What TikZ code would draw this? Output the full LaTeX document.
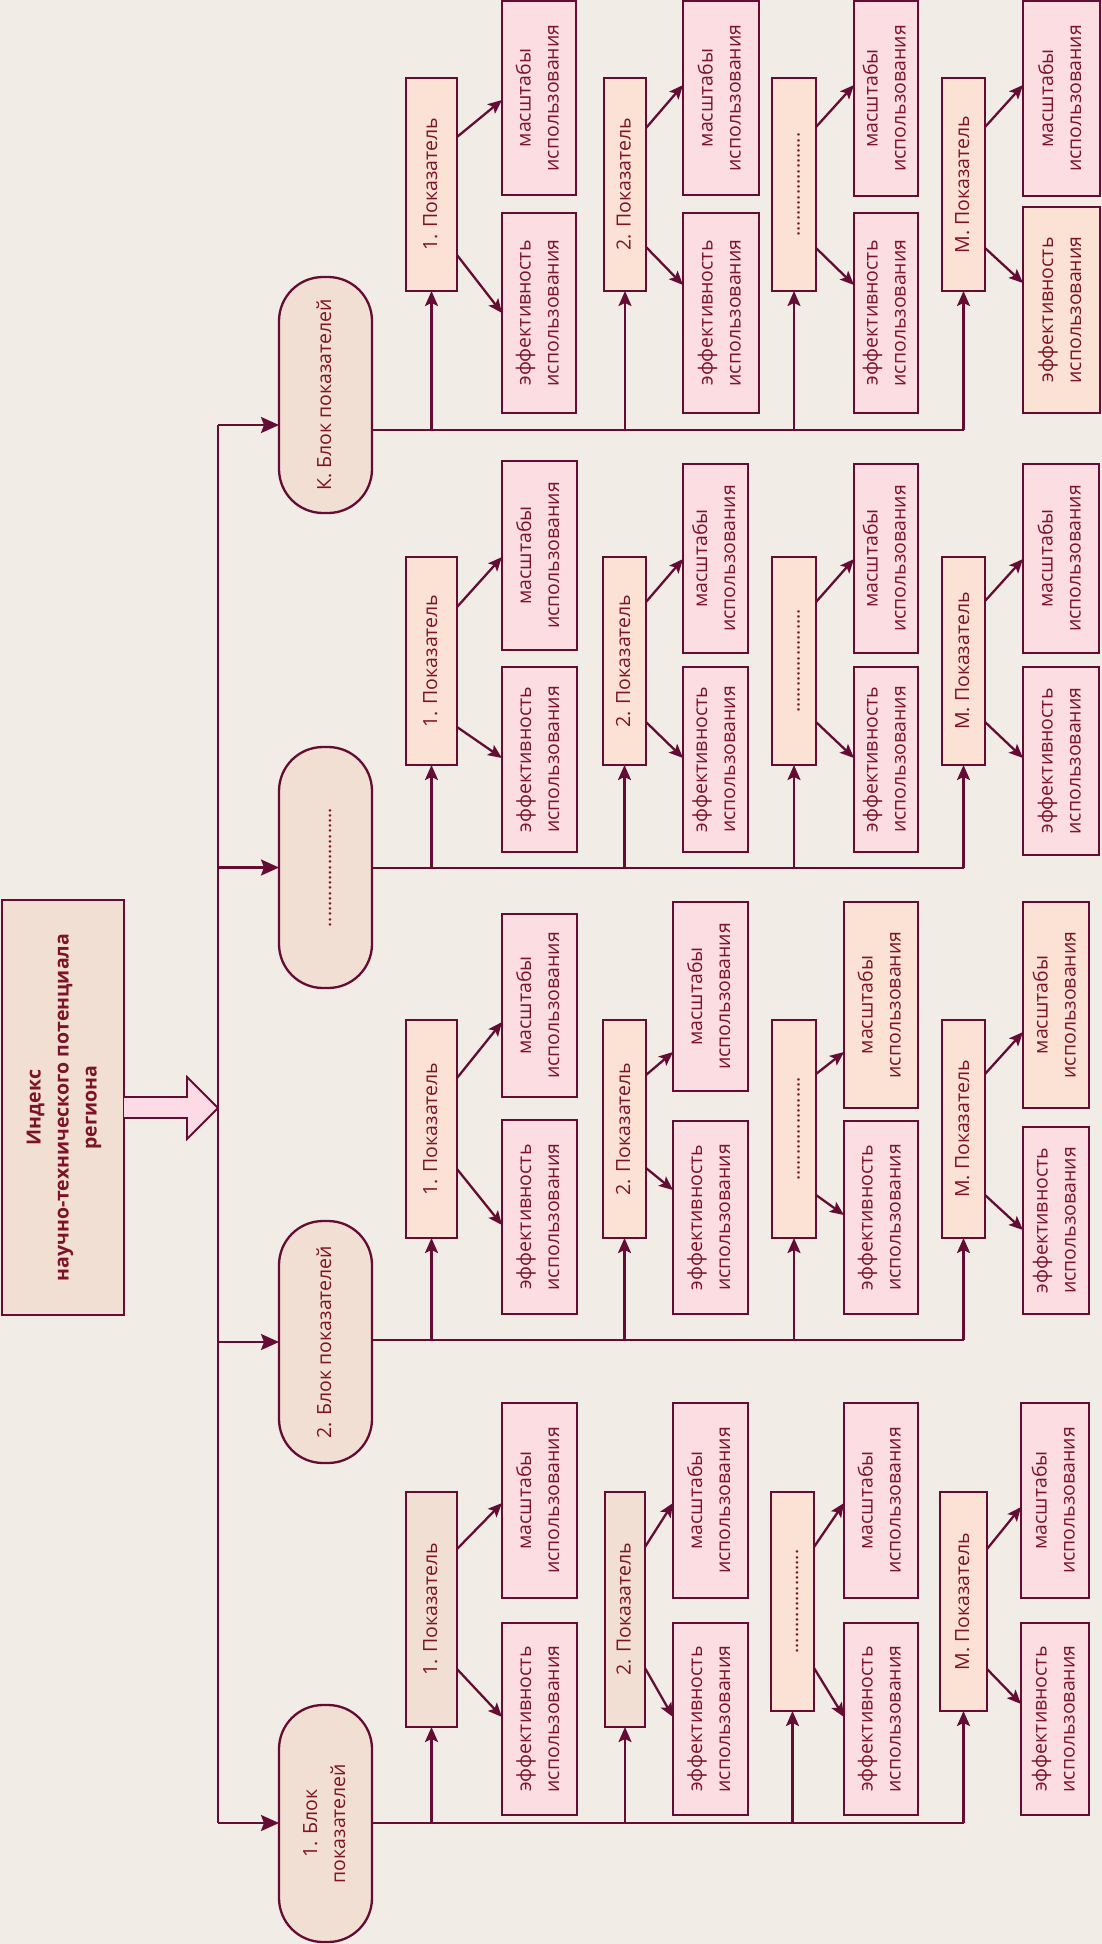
\documentclass[tikz,border=0pt]{standalone}
\usepackage{fontspec}
\setmainfont{Open Sans}
\usetikzlibrary{arrows.meta}
\definecolor{bg}{RGB}{241,237,230}
\definecolor{lnc}{RGB}{100,12,52}
\definecolor{tx}{RGB}{125,18,40}
\definecolor{blkf}{RGB}{242,223,212}
\definecolor{indf}{RGB}{252,226,212}
\definecolor{pinkf}{RGB}{252,221,226}
\definecolor{peachf}{RGB}{252,226,212}
\definecolor{bigarr}{RGB}{252,218,230}
\newcommand\rtext[1]{\rotatebox{90}{\begin{tabular}{@{}c@{}}#1\end{tabular}}}
\newcommand\dts{....................}
\newcommand\bdts{.......................}
\begin{document}
\begin{tikzpicture}[x=1pt,y=-1pt,
  every node/.style={text=tx, font=\fontsize{19.5}{28}\selectfont},
  box/.style={draw=lnc, line width=2.3pt, inner sep=0pt, outer sep=0pt},
  blk/.style={box, fill=blkf, rounded corners=44pt, minimum width=93pt},
  conn/.style={draw=lnc, line width=2.3pt},
  darr/.style={conn, -{Stealth[length=14pt,width=12pt,inset=3pt]}},
  varr/.style={conn, -{Stealth[length=15pt,width=13pt,inset=3pt]}},
  barr/.style={conn, -{Stealth[length=18pt,width=16pt,inset=3pt]}}]
\fill[bg] (0,0) rectangle (1102,1944);
\useasboundingbox (0,0) rectangle (1102,1944);

% main box
\node[box, fill=blkf, minimum width=122pt, minimum height=415pt] (main) at (63,1107.5)
  {\rtext{\bfseries Индекс\\\bfseries научно-технического потенциала\\\bfseries региона}};
\filldraw[fill=bigarr, draw=lnc, line width=1.8pt] (main.east |- 0,1097) -- (187,1097) -- (187,1077) -- (218,1108) -- (187,1139) -- (187,1118) -- (main.east |- 0,1118);

% trunk
\coordinate (tt) at (218,425);
\coordinate (tb) at (218,1823);
\draw[conn] (tt) -- (tb);

% blocks
\node[blk, minimum height=236pt] (bK) at (325.5,395) {\rtext{К. Блок показателей}};
\node[blk, minimum height=241pt] (bD) at (325.5,867.5) {\rtext{\bdts}};
\node[blk, minimum height=242pt] (b2) at (325.5,1342) {\rtext{2. Блок показателей}};
\node[blk, minimum height=237pt] (b1) at (325.5,1823.5) {\rtext{1. Блок\\показателей}};

\draw[barr] (tt) -- (bK.west |- tt);
\draw[barr] (tt |- bD.west) -- (bD.west);
\draw[barr] (tt |- b2.west) -- (b2.west);
\draw[barr] (tb) -- (b1.west |- tb);

% indicator units
\foreach \nm/\ia/\ib/\iy/\iz/\fI/\itx/\ma/\mb/\my/\mz/\mfl/\ey/\ez/\efl/\us/\ue/\ds/\de/\gy in {
K1/406/457/78/291/indf/{1. Показатель}/502/576/1/195/pinkf/213/413/pinkf/137/100/255/313/430,
K2/604/646/78/291/indf/{2. Показатель}/683/759/1/195/pinkf/213/413/pinkf/128/85/247/285/430,
K3/772/816/78/291/indf/{\dts}/854/918/1/196/pinkf/213/413/pinkf/127/85/248/285/430,
KM/942/985/78/291/indf/{М. Показатель}/1023/1100/1/196/pinkf/207/413/peachf/127/85/248/283/430,
D1/406/457/557/765/indf/{1. Показатель}/502/577/461/650/pinkf/667/852/pinkf/607/557/727/758/868,
D2/603/646/557/765/indf/{2. Показатель}/683/748/464/653/pinkf/667/852/pinkf/602/559/722/758/868,
D3/772/816/557/765/indf/{\dts}/854/918/464/653/pinkf/667/852/pinkf/602/559/722/758/868,
DM/942/985/557/765/indf/{М. Показатель}/1023/1099/464/653/pinkf/667/855/pinkf/601/559/722/758/868,
B1/406/457/1020/1238/indf/{1. Показатель}/502/577/914/1097/pinkf/1120/1314/pinkf/1078/1022/1169/1225/1340,
B2/603/646/1020/1238/indf/{2. Показатель}/673/748/902/1091/pinkf/1121/1314/pinkf/1075/1052/1168/1190/1340,
B3/772/816/1020/1238/indf/{\dts}/844/918/902/1108/peachf/1121/1314/pinkf/1074/1052/1195/1215/1340,
BM/942/985/1020/1238/indf/{М. Показатель}/1023/1089/902/1108/peachf/1127/1314/pinkf/1074/1032/1195/1230/1340,
A1/406/457/1492/1727/blkf/{1. Показатель}/502/577/1403/1598/pinkf/1623/1815/pinkf/1549/1503/1669/1717/1823,
A2/605/645/1492/1727/blkf/{2. Показатель}/673/748/1403/1598/pinkf/1623/1815/pinkf/1547/1503/1668/1717/1823,
A3/771/814/1492/1711/indf/{\dts}/844/918/1403/1598/pinkf/1623/1815/pinkf/1547/1503/1668/1717/1823,
AM/940/987/1492/1711/indf/{М. Показатель}/1021/1089/1403/1598/pinkf/1623/1815/pinkf/1549/1507/1669/1704/1823}
{
  \node[box, fill=\fI, minimum width={(\ib-\ia)*1pt}, minimum height={(\iz-\iy)*1pt}] (i\nm) at ({(\ia+\ib)/2},{(\iy+\iz)/2}) {\rtext{\itx}};
  \node[box, fill=\mfl, minimum width={(\mb-\ma)*1pt}, minimum height={(\mz-\my)*1pt}] (m\nm) at ({(\ma+\mb)/2},{(\my+\mz)/2}) {\rtext{масштабы\\использования}};
  \node[box, fill=\efl, minimum width={(\mb-\ma)*1pt}, minimum height={(\ez-\ey)*1pt}] (e\nm) at ({(\ma+\mb)/2},{(\ey+\ez)/2}) {\rtext{эффективность\\использования}};
  \draw[darr] (i\nm.east |- 0,\us) -- (m\nm.west |- 0,\ue);
  \draw[darr] (i\nm.east |- 0,\ds) -- (e\nm.west |- 0,\de);
  \draw[varr] (i\nm.south |- 0,\gy) -- (i\nm.south);
}

% group lines
\draw[conn] (bK.east |- 0,430) -- (iKM.south |- 0,430);
\draw[conn] (bD.east |- 0,868) -- (iDM.south |- 0,868);
\draw[conn] (b2.east |- 0,1340) -- (iBM.south |- 0,1340);
\draw[conn] (b1.east |- 0,1823) -- (iAM.south |- 0,1823);
\end{tikzpicture}
\end{document}
